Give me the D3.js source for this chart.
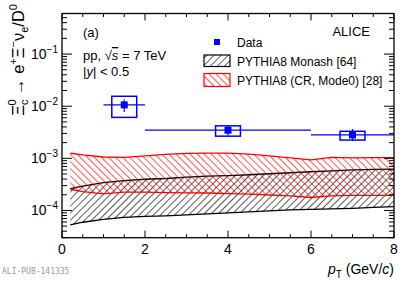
<!DOCTYPE html>
<html>
<head>
<meta charset="utf-8">
<script src="https://cdn.jsdelivr.net/npm/d3@7"></script>
<style>
  body { margin: 0; background: #fff; }
  svg { display: block; font-family: "Liberation Sans", Arial, sans-serif; }
</style>
</head>
<body>
<svg id="svg" width="415" height="281"></svg>
<script>
'use strict';

// data points (pT bin centres, edges, value, stat, sys)
var dataX = [1.5, 4, 7];
var dataXLo = [1, 2, 6];
var dataXHi = [2, 6, 8];
var dataY = [0.0106, 0.00346, 0.00281];
var statLo = [0.0077, 0.00275, 0.00215];
var statHi = [0.0134, 0.00425, 0.00365];
var sysLo = [0.0061, 0.00266, 0.00224];
var sysHi = [0.0155, 0.0042, 0.0033];

// model bands
var bandX = [0.2, 0.5, 1, 1.5, 2, 2.5, 3, 3.5, 4, 4.5, 5, 5.5, 6, 6.5, 7, 7.5, 8];
var monashLo = [5.28e-5, 5.94e-5, 6.77e-5, 7.39e-5, 7.72e-5, 7.9e-5, 8.24e-5, 8.6e-5, 9.0e-5, 9.4e-5, 9.8e-5, 1.03e-4, 1.05e-4, 1.07e-4, 1.1e-4, 1.15e-4, 1.18e-4];
var monashHi = [2.63e-4, 2.93e-4, 3.41e-4, 3.72e-4, 3.97e-4, 4.1e-4, 4.35e-4, 4.54e-4, 4.67e-4, 4.84e-4, 5.06e-4, 5.29e-4, 5.52e-4, 5.76e-4, 6.0e-4, 6.14e-4, 6.2e-4];
var crLo = [2.55e-4, 2.3e-4, 2.08e-4, 2.25e-4, 2.25e-4, 2.2e-4, 2.18e-4, 2.16e-4, 2.11e-4, 2.06e-4, 1.98e-4, 1.9e-4, 1.77e-4, 1.9e-4, 1.95e-4, 1.95e-4, 1.95e-4];
var crHi = [1.25e-3, 1.16e-3, 1.06e-3, 1.04e-3, 1.11e-3, 1.19e-3, 1.24e-3, 1.26e-3, 1.26e-3, 1.2e-3, 1.11e-3, 1.02e-3, 0.93e-3, 1.04e-3, 1.02e-3, 1.03e-3, 1.03e-3];

var xTicks = [0, 2, 4, 6, 8];
var yTickExp = [-1, -2, -3, -4];
var legendLabels = ['Data', 'PYTHIA8 Monash [64]', 'PYTHIA8 (CR, Mode0) [28]'];

var L = 62, R = 394, T = 13.5, B = 237.7;
var BLUE = '#0000ff', RED = '#ff0000';

var svg = d3.select('#svg');
var x = d3.scaleLinear().domain([0, 8]).range([L, R]);
var y = d3.scaleLog().domain([3.0e-5, 0.6]).range([B, T]);

// hatch patterns
var defs = svg.append('defs');
function hatch(id, color, angle) {
  var p = defs.append('pattern').attr('id', id)
      .attr('patternUnits', 'userSpaceOnUse')
      .attr('width', 5).attr('height', 5)
      .attr('patternTransform', 'rotate(' + angle + ')');
  p.append('line').attr('x1', 0).attr('y1', -1).attr('x2', 0).attr('y2', 6)
      .attr('stroke', color).attr('stroke-width', 1.3);
}
hatch('hBlack', '#000', 45);
hatch('hRed', RED, -45);

var clip = defs.append('clipPath').attr('id', 'frame');
clip.append('rect').attr('x', L).attr('y', T).attr('width', R - L).attr('height', B - T);

var plot = svg.append('g').attr('clip-path', 'url(#frame)');

function band(lo, hi, color, pat) {
  var rows = bandX.map(function(d, i) { return {x: d, lo: lo[i], hi: hi[i]}; });
  var area = d3.area().x(function(d) { return x(d.x); })
      .y0(function(d) { return y(d.lo); }).y1(function(d) { return y(d.hi); });
  plot.append('path').datum(rows).attr('d', area).attr('fill', 'url(#' + pat + ')');
  ['lo', 'hi'].forEach(function(k) {
    plot.append('path').datum(rows)
        .attr('d', d3.line().x(function(d) { return x(d.x); }).y(function(d) { return y(d[k]); }))
        .attr('fill', 'none').attr('stroke', color).attr('stroke-width', 1.3);
  });
}
band(monashLo, monashHi, '#000', 'hBlack');
band(crLo, crHi, RED, 'hRed');

// data
var pts = dataX.map(function(d, i) { return i; });
var g = plot.append('g');
g.selectAll('.sys').data(pts).enter().append('rect')
    .attr('x', function(i) { return x(dataX[i] - 0.3); })
    .attr('width', function(i) { return x(dataX[i] + 0.3) - x(dataX[i] - 0.3); })
    .attr('y', function(i) { return y(sysHi[i]); })
    .attr('height', function(i) { return y(sysLo[i]) - y(sysHi[i]); })
    .attr('fill', 'none').attr('stroke', BLUE).attr('stroke-width', 1.5);
g.selectAll('.xerr').data(pts).enter().append('line')
    .attr('x1', function(i) { return x(dataXLo[i]); })
    .attr('x2', function(i) { return x(dataXHi[i]); })
    .attr('y1', function(i) { return y(dataY[i]); })
    .attr('y2', function(i) { return y(dataY[i]); })
    .attr('stroke', BLUE).attr('stroke-width', 1.2);
g.selectAll('.yerr').data(pts).enter().append('line')
    .attr('x1', function(i) { return x(dataX[i]); })
    .attr('x2', function(i) { return x(dataX[i]); })
    .attr('y1', function(i) { return y(statHi[i]); })
    .attr('y2', function(i) { return y(statLo[i]); })
    .attr('stroke', BLUE).attr('stroke-width', 1.2);
g.selectAll('.mk').data(pts).enter().append('rect')
    .attr('x', function(i) { return x(dataX[i]) - 3.5; })
    .attr('y', function(i) { return y(dataY[i]) - 3.5; })
    .attr('width', 7).attr('height', 7).attr('fill', BLUE);

// frame and ticks
svg.append('rect').attr('x', L).attr('y', T).attr('width', R - L).attr('height', B - T)
    .attr('fill', 'none').attr('stroke', '#000').attr('stroke-width', 1.3);

var ax = svg.append('g').attr('stroke', '#000').attr('stroke-width', 1);
d3.range(0, 8.01, 0.5).forEach(function(v) {
  var len = (v % 2 === 0) ? 7 : 3.5;
  ax.append('line').attr('x1', x(v)).attr('x2', x(v)).attr('y1', B).attr('y2', B - len);
  ax.append('line').attr('x1', x(v)).attr('x2', x(v)).attr('y1', T).attr('y2', T + len);
});
y.ticks().forEach(function(v) {
  var yy = y(v);
  if (yy < T - 0.5 || yy > B + 0.5) return;
  var major = Math.abs(Math.log10(v) - Math.round(Math.log10(v))) < 1e-6;
  var len = major ? 10 : 5;
  ax.append('line').attr('x1', L).attr('x2', L + len).attr('y1', yy).attr('y2', yy);
  ax.append('line').attr('x1', R).attr('x2', R - len).attr('y1', yy).attr('y2', yy);
});

// tick labels
svg.selectAll('.xl').data(xTicks).enter().append('text')
    .attr('x', function(d) { return x(d); }).attr('y', B + 16)
    .attr('text-anchor', 'middle').attr('font-size', 14).text(function(d) { return d; });
var yl = svg.selectAll('.yl').data(yTickExp).enter().append('text')
    .attr('x', L - 4).attr('y', function(d) { return y(Math.pow(10, d)) + 5; })
    .attr('text-anchor', 'end').attr('font-size', 14);
yl.append('tspan').text('10');
yl.append('tspan').attr('dy', -6).attr('font-size', 10).text(function(d) { return '\u2212' + (-d); });

// axis titles
var xt = svg.append('text').attr('x', R).attr('y', 274).attr('text-anchor', 'end').attr('font-size', 14);
xt.append('tspan').attr('font-style', 'italic').text('p');
xt.append('tspan').attr('font-size', 10).attr('dy', 4).text('T');
xt.append('tspan').attr('dy', -4).text(' (GeV/');
xt.append('tspan').attr('font-style', 'italic').text('c');
xt.append('tspan').text(')');

var yt = svg.append('text').attr('transform', 'translate(24,4) rotate(-90)')
    .attr('text-anchor', 'end').attr('font-size', 16.5);
yt.append('tspan').text('\u039E');
yt.append('tspan').attr('font-size', 11).attr('dy', 4).text('c');
yt.append('tspan').attr('font-size', 11).attr('dx', -6).attr('dy', -12).text('0');
yt.append('tspan').attr('dy', 8).text(' \u2192 e');
yt.append('tspan').attr('font-size', 11).attr('dy', -7).text('+');
yt.append('tspan').attr('dy', 7).text('\u039E');
yt.append('tspan').attr('font-size', 11).attr('dy', -7).text('\u2212');
yt.append('tspan').attr('dy', 7).text('\u03BD');
yt.append('tspan').attr('font-size', 11).attr('dy', 4).text('e');
yt.append('tspan').attr('dy', -4).text('/D');
yt.append('tspan').attr('font-size', 11).attr('dy', -7).text('0');

// labels
svg.append('text').attr('x', 83).attr('y', 37).attr('font-size', 13).text('(a)');
var t1 = svg.append('text').attr('x', 83).attr('y', 60).attr('font-size', 13);
t1.append('tspan').text('pp, \u221A');
t1.append('tspan').attr('font-style', 'italic').style('text-decoration', 'overline').text('s');
t1.append('tspan').text(' = 7 TeV');
var t2 = svg.append('text').attr('x', 83).attr('y', 76).attr('font-size', 13);
t2.append('tspan').text('|');
t2.append('tspan').attr('font-style', 'italic').text('y');
t2.append('tspan').text('| < 0.5');
svg.append('text').attr('x', 370).attr('y', 36).attr('text-anchor', 'end').attr('font-size', 13).text('ALICE');

// legend
var lg = svg.append('g');
lg.append('rect').attr('x', 214).attr('y', 39).attr('width', 6).attr('height', 6).attr('fill', BLUE);
lg.append('rect').attr('x', 204).attr('y', 55).attr('width', 26).attr('height', 11.5)
    .attr('fill', 'url(#hBlack)').attr('stroke', '#000').attr('stroke-width', 1.2);
lg.append('rect').attr('x', 204).attr('y', 73.5).attr('width', 26).attr('height', 13)
    .attr('fill', 'url(#hRed)').attr('stroke', RED).attr('stroke-width', 1.2);
lg.selectAll('.lt').data(legendLabels).enter().append('text')
    .attr('x', 237).attr('y', function(d, i) { return 47 + i * 19; })
    .attr('font-size', 12).text(function(d) { return d; });

svg.append('text').attr('x', 2).attr('y', 274).attr('font-family', '"DejaVu Sans Mono", monospace')
    .attr('font-size', 8).attr('fill', '#999').text('ALI-PUB-141335');
</script>
</body>
</html>
